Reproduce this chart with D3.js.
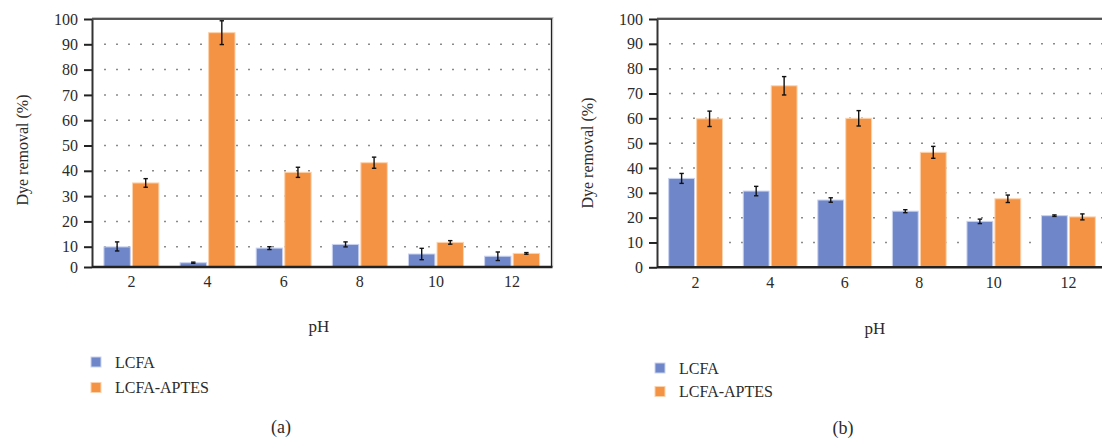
<!DOCTYPE html>
<meta charset="utf-8">
<style>
html, body {
    margin: 0;
    background: white;
}
svg text {
    font-family: 'Liberation Serif', 'Times New Roman', Times, 'DejaVu Serif', serif;
    fill: #2b2b2b;
}
.bar-lcfa { fill: #6f87c9; stroke: #c9d2f0; stroke-width: 1; }
.bar-aptes { fill: #f39343; stroke: #fcd2ad; stroke-width: 1; }
.err { stroke: #111; stroke-width: 1.4; }
.grid line { stroke: #8a8a8a; stroke-width: 1.5; stroke-dasharray: 2 10; }
</style>
<body>
<script src="https://cdn.jsdelivr.net/npm/d3@7"></script>
<script>

var width = 1102,
    height = 439;

// data
var phLabels = ["2", "4", "6", "8", "10", "12"];
var seriesNames = ["LCFA", "LCFA-APTES"];
var yTicks = [0, 10, 20, 30, 40, 50, 60, 70, 80, 90, 100];

// panel (a)
var lcfaA = [9.9, 2.1, 9.3, 10.9, 6.4, 5.3];
var lcfaAErr = [2.0, 0.3, 0.7, 1.0, 2.8, 2.1];
var aptesA = [35.2, 94.6, 39.4, 43.2, 11.7, 6.7];
var aptesAErr = [1.7, 4.7, 2.0, 2.2, 0.7, 0.4];

// panel (b)
var lcfaB = [35.8, 30.7, 27.1, 22.6, 18.5, 20.8];
var lcfaBErr = [2.0, 1.9, 0.9, 0.6, 0.9, 0.3];
var aptesB = [59.8, 73.1, 60.0, 46.3, 27.6, 20.3];
var aptesBErr = [3.1, 3.7, 3.1, 2.4, 1.5, 1.2];

var fontFam = "'Liberation Serif', 'Times New Roman', Times, serif";

var svg = d3.select("body").append("svg")
    .attr("width", width)
    .attr("height", height);

function drawPanel(opt) {
    var g = svg.append("g");

    var x = d3.scaleBand()
        .domain(phLabels)
        .range([opt.left, opt.right])
        .paddingInner(0.265)
        .paddingOuter(0.15);

    var x1 = d3.scaleBand()
        .domain(seriesNames)
        .range([0, x.bandwidth()])
        .paddingInner(0.04);

    var y = d3.scaleLinear()
        .domain(opt.yDomain)
        .range(opt.yRange);

    var top = y(100), bottom = y(0);

    // dotted grid
    g.append("g")
        .attr("class", "grid")
      .selectAll("line")
      .data(yTicks.filter(d => d > 0 && d < 100))
      .enter().append("line")
        .attr("x1", opt.left + 12)
        .attr("x2", opt.right)
        .attr("y1", d => y(d))
        .attr("y2", d => y(d));

    // bars
    var series = [
        {name: "LCFA", cls: "bar-lcfa", vals: opt.lcfa, errs: opt.lcfaErr},
        {name: "LCFA-APTES", cls: "bar-aptes", vals: opt.aptes, errs: opt.aptesErr}
    ];

    series.forEach(s => {
        g.append("g")
          .selectAll("rect")
          .data(phLabels)
          .enter().append("rect")
            .attr("class", s.cls)
            .attr("x", (d, i) => x(d) + x1(s.name) + 0.5)
            .attr("width", x1.bandwidth() - 1)
            .attr("y", (d, i) => y(s.vals[i]))
            .attr("height", (d, i) => bottom - y(s.vals[i]));

        var eb = g.append("g")
          .selectAll("g")
          .data(phLabels)
          .enter().append("g");
        var cx = d => x(d) + x1(s.name) + x1.bandwidth() / 2;
        eb.append("line").attr("class", "err")
            .attr("x1", cx).attr("x2", cx)
            .attr("y1", (d, i) => y(s.vals[i] + s.errs[i]))
            .attr("y2", (d, i) => y(s.vals[i] - s.errs[i]));
        [1, -1].forEach(sign => {
            eb.append("line").attr("class", "err")
                .attr("x1", d => cx(d) - 2.2).attr("x2", d => cx(d) + 2.2)
                .attr("y1", (d, i) => y(s.vals[i] + sign * s.errs[i]))
                .attr("y2", (d, i) => y(s.vals[i] + sign * s.errs[i]));
        });
    });

    // frame
    g.append("line")
        .attr("x1", opt.left).attr("x2", opt.right + 2)
        .attr("y1", top - 1.2).attr("y2", top - 1.2)
        .style("stroke", "#aaa").style("stroke-width", 1);
    g.append("line")
        .attr("x1", opt.left).attr("x2", opt.right + 1)
        .attr("y1", top).attr("y2", top)
        .style("stroke", "#222").style("stroke-width", 1.3);
    if (opt.rightBorder) {
        g.append("line")
            .attr("x1", opt.right).attr("x2", opt.right)
            .attr("y1", top).attr("y2", bottom)
            .style("stroke", "#222").style("stroke-width", 1.3);
        g.append("line")
            .attr("x1", opt.right + 1.2).attr("x2", opt.right + 1.2)
            .attr("y1", top).attr("y2", bottom)
            .style("stroke", "#bbb").style("stroke-width", 1);
    }

    // y axis
    var yAxis = g.append("g")
        .attr("transform", "translate(" + opt.left + ",0)")
        .call(d3.axisLeft(y).tickValues(yTicks).tickSize(8).tickPadding(6).tickSizeOuter(0))
        .attr("font-family", fontFam);
    yAxis.select(".domain").style("stroke", "#333").style("stroke-width", 2);
    yAxis.selectAll(".tick line").style("stroke", "#222").style("stroke-width", 2);
    yAxis.selectAll(".tick text")
        .style("font-size", "16px")
        .attr("fill", "#2b2b2b");

    // x axis
    var xAxis = g.append("g")
        .attr("transform", "translate(0," + bottom + ")")
        .call(d3.axisBottom(x).tickSize(0).tickPadding(9).tickSizeOuter(0))
        .attr("font-family", fontFam);
    xAxis.select(".domain")
        .attr("d", "M" + opt.left + ",0H" + (opt.right + 1))
        .style("stroke", "#222").style("stroke-width", 2.5);
    xAxis.selectAll(".tick text")
        .style("font-size", "16px")
        .attr("fill", "#2b2b2b");

    // axis titles
    g.append("text")
        .attr("transform", "translate(" + opt.yLabelX + "," + opt.yLabelY + ") rotate(-90)")
        .attr("text-anchor", "middle")
        .attr("dy", "0.35em")
        .style("font-size", "16px")
        .text("Dye removal (%)");

    g.append("text")
        .attr("x", opt.phX)
        .attr("y", opt.phY)
        .attr("text-anchor", "middle")
        .attr("dy", "0.35em")
        .style("font-size", "17px")
        .text("pH");

    // legend
    var legend = g.append("g")
      .selectAll("g")
      .data(series)
      .enter().append("g")
        .attr("transform", (d, i) => "translate(" + opt.legX + "," + (opt.legY + i * opt.legStep) + ")");
    legend.append("rect")
        .attr("class", d => d.cls)
        .attr("x", 0).attr("y", -5)
        .attr("width", 10).attr("height", 10);
    legend.append("text")
        .attr("x", 24)
        .attr("dy", "0.35em")
        .style("font-size", "16px")
        .text(d => d.name);

    g.append("text")
        .attr("x", opt.capX)
        .attr("y", opt.capY)
        .attr("text-anchor", "middle")
        .attr("dy", "0.35em")
        .style("font-size", "18px")
        .text(opt.caption);
}

drawPanel({
    left: 92, right: 551.5,
    yDomain: [0, 10, 100], yRange: [267, 246.7, 19],
    lcfa: lcfaA, lcfaErr: lcfaAErr, aptes: aptesA, aptesErr: aptesAErr,
    rightBorder: true,
    yLabelX: 22, yLabelY: 150,
    phX: 319, phY: 326,
    legX: 91, legY: 362, legStep: 25.5,
    capX: 281, capY: 427, caption: "(a)"
});

drawPanel({
    left: 657, right: 1107,
    yDomain: [0, 100], yRange: [267.3, 19],
    lcfa: lcfaB, lcfaErr: lcfaBErr, aptes: aptesB, aptesErr: aptesBErr,
    rightBorder: false,
    yLabelX: 587, yLabelY: 153,
    phX: 875, phY: 328,
    legX: 655, legY: 368, legStep: 23.5,
    capX: 843, capY: 428, caption: "(b)"
});

</script>
